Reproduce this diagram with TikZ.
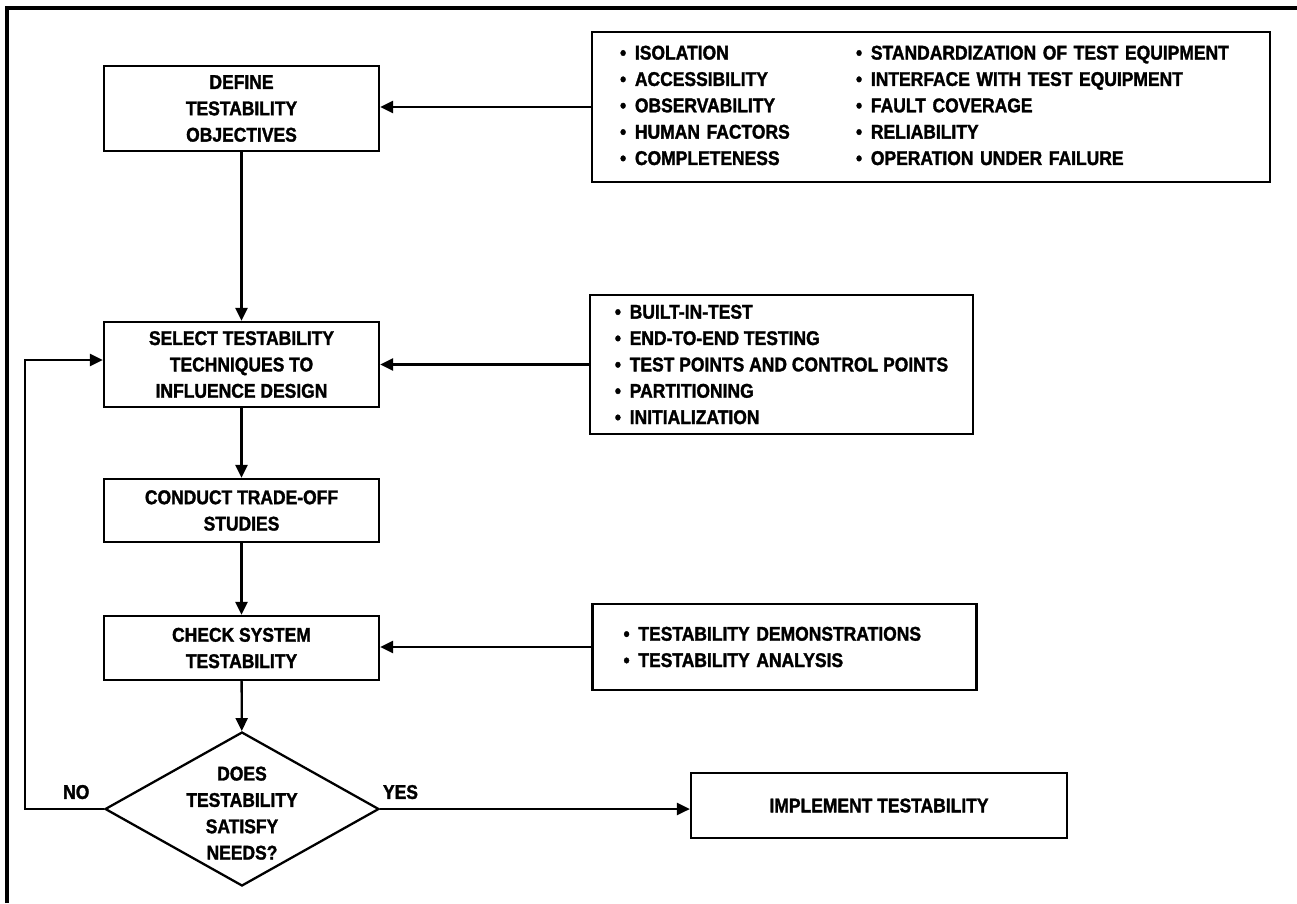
\documentclass[tikz,border=0pt]{standalone}
\usepackage{fontspec}
\setmainfont{Liberation Sans}[FakeStretch=0.88, BoldFeatures={FakeBold=1.6}]
\usepackage{tikz}
\usetikzlibrary{shapes.geometric, arrows.meta, positioning}

\newcommand{\flowfont}{\fontsize{11.3}{15}\selectfont\bfseries}
\newcommand{\bul}{\textbullet\hspace{5pt}}

\begin{document}
\begin{tikzpicture}[x=0.02cm, y=-0.02cm,
    box/.style={rectangle, draw, line width=1.3pt, align=center,
                font=\flowfont, inner ysep=2pt, minimum width=5.5cm},
    list/.style={rectangle, draw, line width=1.3pt, align=left,
                 font=\flowfont, inner ysep=2pt},
    arrow/.style={-{Triangle[length=2.6mm, width=2.4mm]}, line width=1.3pt},
    lbl/.style={font=\flowfont, inner sep=0pt}]
  \useasboundingbox (0,0) rectangle (1297,903);
  % outer frame
  \draw[line width=2pt] (7,903) -- (7,8) -- (1297,8);

  % main flow
  \node[box, minimum height=1.7cm] (define) at (241.5,108.5)
        {DEFINE\\TESTABILITY\\OBJECTIVES};
  \node[box, minimum height=1.7cm] (select) at (241.5,364.5)
        {SELECT TESTABILITY\\TECHNIQUES TO\\INFLUENCE DESIGN};
  \node[box, minimum height=1.26cm] (trade) at (241.5,510.5)
        {CONDUCT TRADE-OFF\\STUDIES};
  \node[box, minimum height=1.28cm] (check) at (241.5,648)
        {CHECK SYSTEM\\TESTABILITY};
  \node[diamond, draw, line width=1.3pt, inner sep=0pt,
        minimum width=5.48cm, minimum height=3.08cm, font=\flowfont] (decide) at (242,809)
        {\smash{\raisebox{-6pt}{\begin{tabular}[c]{@{}c@{}}DOES\\TESTABILITY\\SATISFY\\NEEDS?\end{tabular}}}};
  \node[box, minimum width=7.52cm, minimum height=1.3cm] (impl) at (879,805.5)
        {IMPLEMENT TESTABILITY};

  % side lists
  \node[list, inner xsep=0.56cm, text width=12.44cm, minimum height=3cm] (goals) at (931,107)
        {\begin{tabular}{@{}p{4.72cm}@{}l@{}}
           \bul ISOLATION & \bul STANDARDIZATION OF TEST EQUIPMENT\\
           \bul ACCESSIBILITY & \bul INTERFACE WITH TEST EQUIPMENT\\
           \bul OBSERVABILITY & \bul FAULT COVERAGE\\
           \bul HUMAN FACTORS & \bul RELIABILITY\\
           \bul COMPLETENESS & \bul OPERATION UNDER FAILURE
         \end{tabular}};
  \node[list, inner xsep=0.5cm, minimum width=7.56cm, minimum height=2.78cm] (techs) at (781.5,364.5)
        {\bul BUILT-IN-TEST\\\bul END-TO-END TESTING\\\bul TEST POINTS AND CONTROL POINTS\\
         \bul PARTITIONING\\\bul INITIALIZATION};
  \node[list, inner xsep=0.62cm, text width=6.44cm, minimum height=1.72cm] (checks) at (784.5,647)
        {\bul TESTABILITY DEMONSTRATIONS\\\bul TESTABILITY ANALYSIS};

  \coordinate (fb) at (25,360);

  % connectors
  \draw[arrow] (define) -- (select);
  \draw[arrow] (select) -- (trade);
  \draw[arrow] (trade) -- (check);
  \draw[arrow] (check) -- (decide);
  \draw[arrow] (goals.west) -- (goals.west -| define.east);
  \draw[arrow] (techs.west) -- (techs.west -| select.east);
  \draw[arrow] (checks.west) -- (checks.west -| check.east);
  \draw[arrow] (decide.east) -- node[lbl, pos=0, anchor=south west, yshift=5pt, xshift=1pt] {YES}
        (decide.east -| impl.west);
  \draw[arrow] (decide.west) -- node[lbl, pos=0.35, anchor=south, yshift=5pt] {NO}
        (decide.west -| fb) -- (fb) -- (fb -| select.west);
\end{tikzpicture}
\end{document}
